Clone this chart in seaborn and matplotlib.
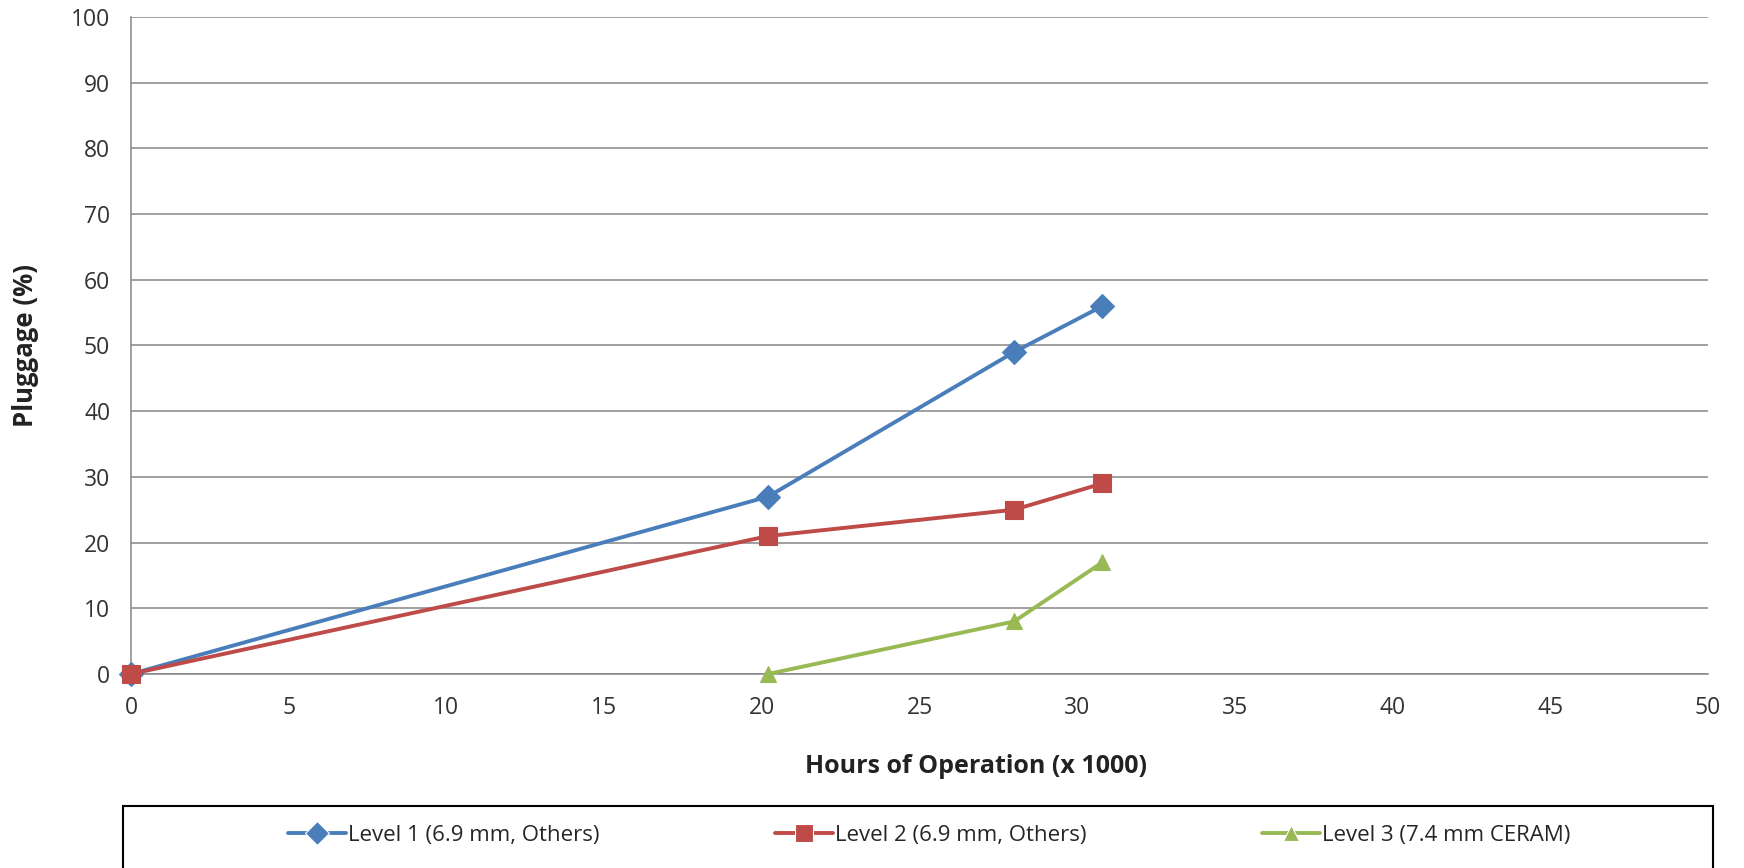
import matplotlib
matplotlib.use("Agg")
import matplotlib.pyplot as plt
from matplotlib import font_manager
from matplotlib.patches import Rectangle
import seaborn as sns
import pandas as pd

# Series data: hours of operation (x 1000) vs. pluggage (%)
series_names = ["Level 1 (6.9 mm, Others)", "Level 2 (6.9 mm, Others)", "Level 3 (7.4 mm CERAM)"]
level1_hours = [0, 20.2, 28.0, 30.8]
level1_plug = [0, 27, 49, 56]
level2_hours = [0, 20.2, 28.0, 30.8]
level2_plug = [0, 21, 25, 29]
level3_hours = [20.2, 28.0, 30.8]
level3_plug = [0, 8, 17]

x_ticks = [0, 5, 10, 15, 20, 25, 30, 35, 40, 45, 50]
y_ticks = [0, 10, 20, 30, 40, 50, 60, 70, 80, 90, 100]

colors = ["#4A7EBB", "#BE4B48", "#98B954"]
markers = ["D", "s", "^"]
marker_sizes = [12, 13.5, 12]

sns.set_theme(style="white")
available = {f.name for f in font_manager.fontManager.ttflist}
base_font = "Open Sans" if "Open Sans" in available else "DejaVu Sans"
plt.rcParams["font.family"] = [base_font, "DejaVu Sans"]

rows = []
for name, xs, ys in [(series_names[0], level1_hours, level1_plug),
                     (series_names[1], level2_hours, level2_plug),
                     (series_names[2], level3_hours, level3_plug)]:
    for x, y in zip(xs, ys):
        rows.append({"hours": x, "pluggage": y, "series": name})
df = pd.DataFrame(rows)

fig = plt.figure(figsize=(17.44, 8.68), dpi=100)
ax = fig.add_axes([0.0751, 0.2235, 0.9043, 0.757])

sns.lineplot(data=df, x="hours", y="pluggage", hue="series", style="series",
             hue_order=series_names, style_order=series_names,
             palette=dict(zip(series_names, colors)),
             markers=dict(zip(series_names, markers)),
             dashes=False, linewidth=2.8, markersize=12,
             markeredgewidth=0.8, ax=ax, legend=True, zorder=3)

# per-series marker sizes, edges in series colour, markers at the axis edge left unclipped
for line, c, ms in zip(ax.get_lines()[:3], colors, marker_sizes):
    line.set_markeredgecolor(c)
    line.set_markersize(ms)
    line.set_clip_on(False)

ax.set_xlim(0, 50)
ax.set_ylim(0, 100)
ax.set_xticks(x_ticks)
ax.set_yticks(y_ticks)
ax.set_xticklabels([str(t) for t in x_ticks])
ax.set_yticklabels([str(t) for t in y_ticks])
ax.tick_params(axis="both", labelsize=16.5, colors="#333333")
ax.tick_params(axis="x", length=7, width=1, color="#868686", direction="out", pad=9)
ax.tick_params(axis="y", length=9, width=1, color="#868686", direction="out", pad=6)
ax.grid(axis="y", color="#868686", linewidth=1.1)
ax.grid(axis="x", visible=False)
for side in ["top", "right"]:
    ax.spines[side].set_visible(False)
for side in ["left", "bottom"]:
    ax.spines[side].set_color("#868686")
    ax.spines[side].set_linewidth(1.1)
ax.set_axisbelow(True)

ax.set_xlabel("Hours of Operation (x 1000)", fontsize=18, fontweight="bold",
              color="#222222")
ax.xaxis.set_label_coords(0.536, -0.121)
ax.set_ylabel("Pluggage (%)", fontsize=18.5, fontweight="bold",
              color="#222222", labelpad=23)

handles, labels = ax.get_legend_handles_labels()
ax.get_legend().remove()
for h, ms in zip(handles, marker_sizes):
    h.set_markersize(ms)

# legend box along the bottom edge
fig.patches.append(Rectangle((0.0705, -0.02), 0.9115, 0.0914, transform=fig.transFigure,
                             fill=False, edgecolor="black", linewidth=1.5))
fig.legend(handles, labels, loc="center", bbox_to_anchor=(0.533, 0.038), ncol=3,
           frameon=False, handlelength=2.6, handletextpad=0.1, columnspacing=7.9,
           prop={"family": [base_font, "DejaVu Sans"], "size": 16})

fig.savefig("out.png", dpi=100, facecolor="white")
